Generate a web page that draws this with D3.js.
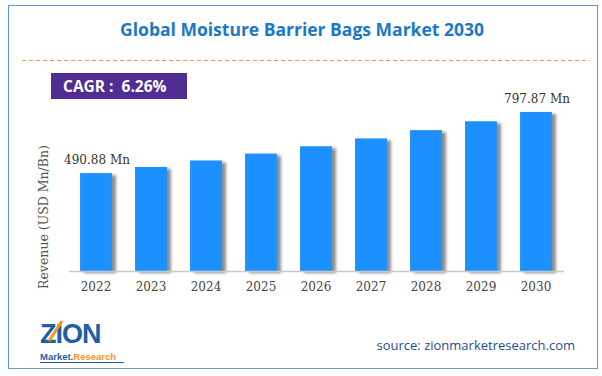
<!DOCTYPE html>
<html><head><meta charset="utf-8">
<script src="https://cdn.jsdelivr.net/npm/d3@7/dist/d3.min.js"></script>
<style>body{margin:0;background:#fff;}svg{display:block;}</style>
</head><body>
<svg id="c" width="602" height="376"></svg>
<script>
const years = ["2022","2023","2024","2025","2026","2027","2028","2029","2030"];
const revenue = [490.88, 521.6, 554.3, 589.0, 625.8, 665.0, 706.6, 750.9, 797.87];
const labels = ["490.88 Mn","","","","","","","","797.87 Mn"];
const titleText = "Global Moisture Barrier Bags Market 2030";
const cagrText = "CAGR :  6.26%";
const sourceText = "source: zionmarketresearch.com";

const svg = d3.select("#c");
const defs = svg.append("defs");
const f = defs.append("filter").attr("id","sh").attr("x","-20%").attr("y","-10%").attr("width","150%").attr("height","130%");
f.append("feGaussianBlur").attr("in","SourceAlpha").attr("stdDeviation",1.5).attr("result","b");
f.append("feOffset").attr("in","b").attr("dx",4).attr("dy",2).attr("result","o");
f.append("feComponentTransfer").attr("in","o").attr("result","o2").append("feFuncA").attr("type","linear").attr("slope",0.45);
const m = f.append("feMerge"); m.append("feMergeNode").attr("in","o2"); m.append("feMergeNode").attr("in","SourceGraphic");

svg.append("rect").attr("x",8.5).attr("y",5.5).attr("width",589).attr("height",363).attr("fill","none").attr("stroke","#5b9bd5").attr("stroke-width",1);

svg.append("text").attr("x",302).attr("y",36).attr("text-anchor","middle")
  .attr("font-family","Open Sans, sans-serif").attr("font-weight","bold").attr("font-size",17.5)
  .attr("fill","#1a78c8").text(titleText);

svg.append("line").attr("x1",22).attr("x2",590).attr("y1",60.5).attr("y2",60.5)
  .attr("stroke","#f79646").attr("stroke-width",1.2).attr("stroke-dasharray","4,3");

svg.append("rect").attr("x",51).attr("y",73).attr("width",136).attr("height",26).attr("fill","#4f2d93");
svg.append("text").attr("x",63).attr("y",92).attr("font-family","Open Sans, sans-serif").attr("font-weight","bold")
  .attr("font-size",15.5).attr("fill","#fff").attr("xml:space","preserve").text(cagrText);

const x = d3.scaleBand().domain(years).range([68.5,563.5]).paddingInner(0.42).paddingOuter(0.21);
const y = d3.scaleLinear().domain([0, 800]).range([271, 111.5]);

svg.append("g").attr("filter","url(#sh)").selectAll("rect").data(years).join("rect")
  .attr("x",d=>x(d)).attr("width",x.bandwidth())
  .attr("y",(d,i)=>y(revenue[i])).attr("height",(d,i)=>y(0)-y(revenue[i]))
  .attr("fill","#1e90ff");

const ax = svg.append("g").attr("transform","translate(0,271)").call(d3.axisBottom(x).tickSize(0).tickPadding(11));
ax.select(".domain").attr("stroke","#c8c8c8").attr("stroke-width",1.5);
ax.selectAll("text").attr("font-family","DejaVu Serif, serif").attr("font-size",12).attr("fill","#444");

svg.append("g").selectAll("text").data(years).join("text")
  .attr("x",d=>x(d)+x.bandwidth()/2+1).attr("y",(d,i)=>y(revenue[i])-9)
  .attr("text-anchor","middle").attr("font-family","DejaVu Serif, serif").attr("font-size",12).attr("fill","#333")
  .text((d,i)=>labels[i]);

svg.append("text").attr("transform","translate(48,217) rotate(-90)").attr("text-anchor","middle")
  .attr("font-family","DejaVu Serif, serif").attr("font-size",12.5).attr("fill","#555")
  .text("Revenue (USD Mn/Bn)");

// logo
const lg = svg.append("g");
lg.append("text").attr("x",40).attr("y",343).attr("font-family","Liberation Sans, Arial, sans-serif").attr("font-weight","bold")
  .attr("font-size",27).attr("fill","#1f5fa6").attr("letter-spacing",-1).text("ZION");
lg.append("line").attr("x1",49).attr("y1",341).attr("x2",62).attr("y2",321).attr("stroke","#f7941d").attr("stroke-width",3);
lg.append("text").attr("x",40).attr("y",360).attr("font-family","Liberation Sans, Arial, sans-serif").attr("font-weight","bold")
  .attr("font-size",9.5).attr("fill","#1f5fa6").text("Market.")
  .append("tspan").attr("fill","#f7941d").text("Research");
lg.append("line").attr("x1",40).attr("x2",124).attr("y1",362.5).attr("y2",362.5).attr("stroke","#1f5fa6").attr("stroke-width",1);

svg.append("text").attr("x",575).attr("y",350).attr("text-anchor","end").attr("font-family","Open Sans, sans-serif")
  .attr("font-size",13).attr("fill","#1f4e8c").text(sourceText);
</script>
</body></html>
